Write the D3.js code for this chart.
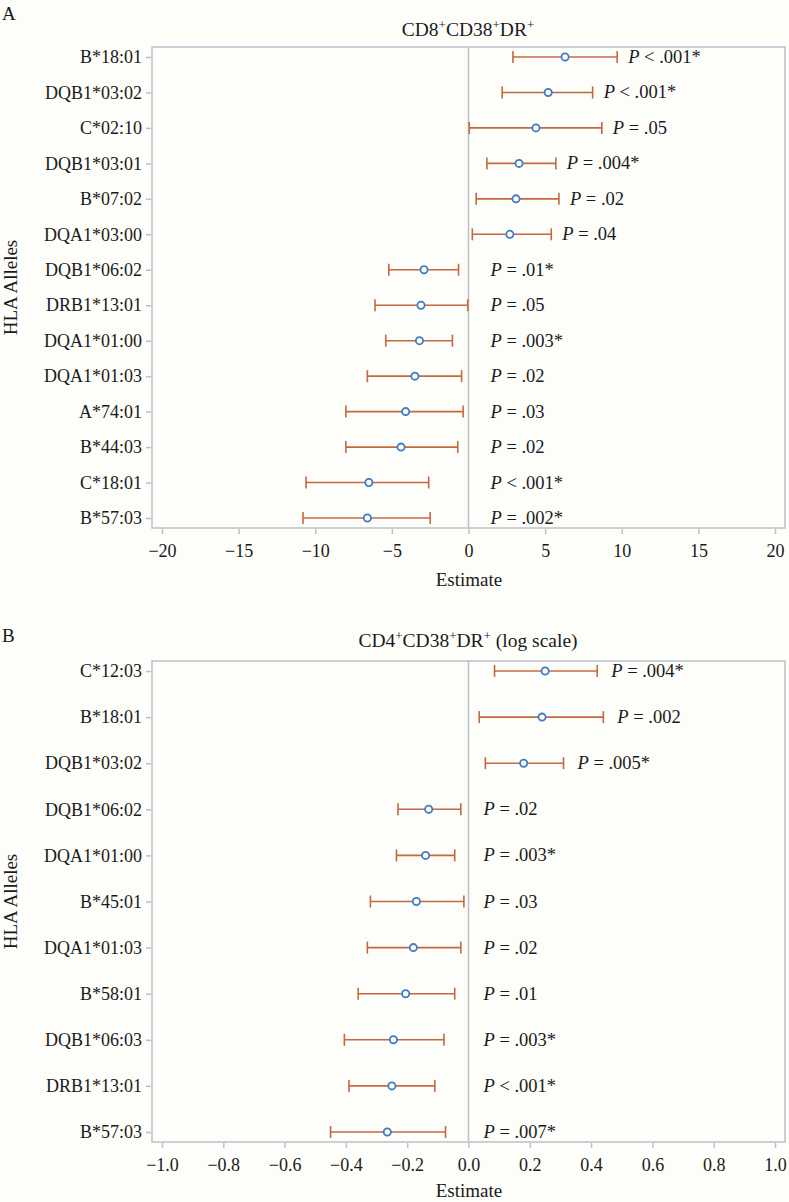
<!DOCTYPE html>
<html><head><meta charset="utf-8">
<script src="https://cdn.jsdelivr.net/npm/d3@7"></script>
<style>
html,body{margin:0;padding:0;background:#fdfdf9;}
svg{display:block;}
svg text{font-family:"Liberation Serif","DejaVu Serif",serif;}
</style></head>
<body>
<svg id="chart" width="789" height="1202"></svg>
<script>
// ---- Panel A data ----
const allelesA = ["B*18:01","DQB1*03:02","C*02:10","DQB1*03:01","B*07:02","DQA1*03:00","DQB1*06:02","DRB1*13:01","DQA1*01:00","DQA1*01:03","A*74:01","B*44:03","C*18:01","B*57:03"];
const estA = [6.3, 5.2, 4.4, 3.3, 3.1, 2.7, -2.9, -3.1, -3.2, -3.5, -4.1, -4.4, -6.5, -6.6];
const lowA = [2.9, 2.2, 0.05, 1.2, 0.5, 0.25, -5.2, -6.1, -5.4, -6.6, -8.0, -8.0, -10.6, -10.8];
const highA = [9.7, 8.1, 8.7, 5.7, 5.9, 5.4, -0.65, -0.05, -1.05, -0.45, -0.35, -0.7, -2.6, -2.5];
const pA = ["< .001*", "< .001*", "= .05", "= .004*", "= .02", "= .04", "= .01*", "= .05", "= .003*", "= .02", "= .03", "= .02", "< .001*", "= .002*"];
const ticksA = [-20, -15, -10, -5, 0, 5, 10, 15, 20];

// ---- Panel B data ----
const allelesB = ["C*12:03","B*18:01","DQB1*03:02","DQB1*06:02","DQA1*01:00","B*45:01","DQA1*01:03","B*58:01","DQB1*06:03","DRB1*13:01","B*57:03"];
const estB = [0.25, 0.24, 0.18, -0.13, -0.14, -0.17, -0.18, -0.205, -0.245, -0.25, -0.265];
const lowB = [0.085, 0.035, 0.055, -0.23, -0.235, -0.32, -0.33, -0.36, -0.405, -0.39, -0.45];
const highB = [0.42, 0.44, 0.31, -0.025, -0.045, -0.015, -0.025, -0.045, -0.08, -0.11, -0.075];
const pB = ["= .004*", "= .002", "= .005*", "= .02", "= .003*", "= .03", "= .02", "= .01", "= .003*", "< .001*", "= .007*"];
const ticksB = [-1.0, -0.8, -0.6, -0.4, -0.2, 0.0, 0.2, 0.4, 0.6, 0.8, 1.0];

const svg = d3.select("#chart");
const BOX = "#b9c1cc", BAR = "#c4683f", DOT = "#3d7cc6", TXT = "#1a1a1a";
const FONT = "Liberation Serif";

function panel(o) {
  const g = svg.append("g").attr("font-family", FONT);
  const x = d3.scaleLinear().domain([o.ticks[0], o.ticks[o.ticks.length-1]]).range([162, 775]);
  const y = d3.scalePoint().domain(o.alleles).range([o.top + 10, o.bottom - 10]);
  const left = 152, right = 785;

  // panel letter
  g.append("text").attr("x", 2).attr("y", o.letterY).attr("font-size", 19).attr("fill", TXT).text(o.letter);

  // title
  const t = g.append("text").attr("x", 468).attr("y", o.top - o.titleGap).attr("text-anchor", "middle")
    .attr("font-size", 19.5).attr("fill", TXT);
  o.title.forEach(p => {
    if (p.sup) t.append("tspan").attr("dy", -7).attr("font-size", 13).text(p.s);
    else t.append("tspan").attr("dy", p.after ? 7 : 0).text(p.s);
  });

  // box
  g.append("rect").attr("x", left).attr("y", o.top).attr("width", right - left).attr("height", o.bottom - o.top)
    .attr("fill", "none").attr("stroke", BOX).attr("stroke-width", 1.5);
  // zero line
  g.append("line").attr("x1", x(0)).attr("x2", x(0)).attr("y1", o.top).attr("y2", o.bottom)
    .attr("stroke", BOX).attr("stroke-width", 1.5);

  // x axis
  const xa = g.append("g").attr("transform", `translate(0,${o.bottom + 1})`)
    .call(d3.axisBottom(x).tickValues(o.ticks).tickFormat(o.fmt).tickSize(5).tickPadding(10));
  xa.attr("font-family", FONT);
  xa.select(".domain").remove();
  xa.selectAll("line").attr("stroke", BOX).attr("stroke-width", 1.5);
  xa.selectAll("text").attr("font-size", 18).attr("fill", TXT);

  // y axis
  const ya = g.append("g").attr("transform", `translate(${left - 1},0)`)
    .call(d3.axisLeft(y).tickSize(5).tickPadding(4));
  ya.attr("font-family", FONT);
  ya.select(".domain").remove();
  ya.selectAll("line").attr("stroke", BOX).attr("stroke-width", 1.5);
  ya.selectAll("text").attr("font-size", 18).attr("fill", TXT);

  // axis titles
  g.append("text").attr("x", 469).attr("y", o.bottom + o.estGap).attr("text-anchor", "middle")
    .attr("font-size", 19).attr("fill", TXT).text("Estimate");
  g.append("text").attr("transform", `translate(17,${(o.top + o.bottom) / 2}) rotate(-90)`)
    .attr("text-anchor", "middle").attr("font-size", 19).attr("fill", TXT).text("HLA Alleles");

  const rows = o.alleles.map((a, i) => ({a, e: o.est[i], lo: o.low[i], hi: o.high[i], p: o.p[i]}));
  const r = g.selectAll(".row").data(rows).enter().append("g");
  r.append("line").attr("x1", d => x(d.lo)).attr("x2", d => x(d.hi)).attr("y1", d => y(d.a)).attr("y2", d => y(d.a))
    .attr("stroke", BAR).attr("stroke-width", 1.6);
  r.append("line").attr("x1", d => x(d.lo)).attr("x2", d => x(d.lo)).attr("y1", d => y(d.a) - 6).attr("y2", d => y(d.a) + 6)
    .attr("stroke", BAR).attr("stroke-width", 1.6);
  r.append("line").attr("x1", d => x(d.hi)).attr("x2", d => x(d.hi)).attr("y1", d => y(d.a) - 6).attr("y2", d => y(d.a) + 6)
    .attr("stroke", BAR).attr("stroke-width", 1.6);
  r.append("circle").attr("cx", d => x(d.e)).attr("cy", d => y(d.a)).attr("r", 3.6)
    .attr("fill", "#fdfdf9").attr("stroke", DOT).attr("stroke-width", 1.8);
  const pt = r.append("text")
    .attr("x", d => Math.max(x(d.hi) + o.offHi, x(0) + o.offZero))
    .attr("y", d => y(d.a) + 6).attr("font-size", 18.5).attr("fill", TXT);
  pt.append("tspan").attr("font-style", "italic").text("P");
  pt.append("tspan").text(d => " " + d.p);
}

panel({letter: "A", letterY: 20, titleGap: 11, estGap: 58, top: 47, bottom: 528,
  alleles: allelesA, est: estA, low: lowA, high: highA, p: pA,
  ticks: ticksA, fmt: d3.format("d"), offHi: 11, offZero: 22,
  title: [{s: "CD8"}, {s: "+", sup: true}, {s: "CD38", after: true}, {s: "+", sup: true}, {s: "DR", after: true}, {s: "+", sup: true}]});
panel({letter: "B", letterY: 642, titleGap: 14, estGap: 55, top: 661, bottom: 1142,
  alleles: allelesB, est: estB, low: lowB, high: highB, p: pB,
  ticks: ticksB, fmt: d3.format(".1f"), offHi: 14, offZero: 15,
  title: [{s: "CD4"}, {s: "+", sup: true}, {s: "CD38", after: true}, {s: "+", sup: true}, {s: "DR", after: true}, {s: "+", sup: true}, {s: " (log scale)", after: true}]});
</script>
</body></html>
